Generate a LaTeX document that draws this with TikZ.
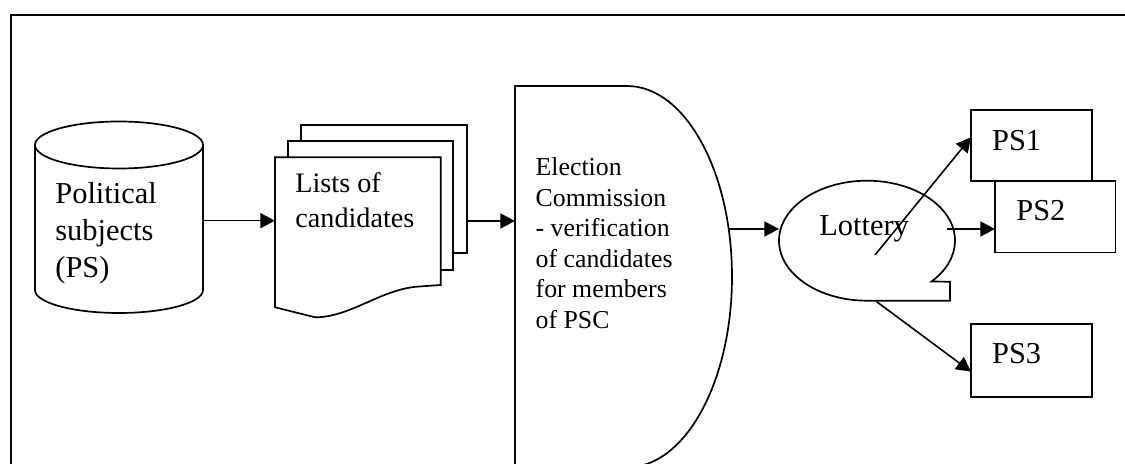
\documentclass[tikz,border=0pt]{standalone}
\usepackage{fontspec}
\setmainfont{Liberation Serif}
\usetikzlibrary{arrows.meta}
\tikzset{
  arr/.style={-{Triangle[length=7.3pt,width=7.5pt]}, line width=0.8pt},
  shp/.style={draw, line width=0.85pt, fill=white},
  txt/.style={inner sep=0pt, align=left},
}

\begin{document}
\begin{tikzpicture}[x=0.5pt,y=0.5pt]
  %%%%% START %%%%%
  \useasboundingbox (0,0) rectangle (1125,-464);
  \clip (0,0) rectangle (1125,-464);
  \draw[line width=1pt] (1200,-15) -- (10.5,-15) -- (10.5,-520);

  % political subjects
  \draw[shp] (35,-145) -- (35,-290) arc[start angle=180, end angle=360, x radius=42pt, y radius=11.5pt] -- (203,-145);
  \draw[shp] (119,-145) ellipse [x radius=42pt, y radius=11.75pt];
  \node[txt, anchor=north west, font=\fontsize{15.2}{18.3}\selectfont] (subj) at (55,-182.5) {Political\\subjects\\(PS)};

  % lists of candidates
  \draw[shp] (301,-124.7) rectangle (467.3,-253.3);
  \draw[shp] (288.3,-141.3) rectangle (452.7,-270);
  \draw[shp] (275,-157.3) -- (440.7,-157.3) -- (440.7,-285) -- (416.7,-286.7)
    .. controls (380,-290) and (350,-317.3) .. (315,-317.3) -- (275,-307.3) -- cycle;
  \node[txt, anchor=north west, font=\fontsize{14.1}{17.2}\selectfont] (lists) at (295,-172.4) {Lists of\\candidates};

  % election commission
  \draw[shp] (627,-86) -- (515,-86) -- (515,-467.4) -- (627,-467.4)
    arc[start angle=-90, end angle=90, x radius=52.5pt, y radius=95.35pt] -- cycle;
  \node[txt, anchor=north west, font=\fontsize{12.9}{15.25}\selectfont] (ec) at (535.3,-157.4)
    {Election\\Commission\\- verification\\of candidates\\for members\\of PSC};

  % lottery
  \draw[shp] (950,-300.7) -- (867,-300.7)
    arc[start angle=270, end angle=-42.9, x radius=44pt, y radius=30pt] -- (950,-281.7) -- cycle;
  \node[txt, anchor=base west, font=\fontsize{15.2}{18}\selectfont] (lot) at (819,-236) {Lottery};

  % results
  \draw[shp] (971,-110) rectangle (1092,-181);
  \draw[shp] (995,-181) rectangle (1115.5,-252.5);
  \draw[shp] (971,-324) rectangle (1092,-397);
  \node[txt, anchor=base west, font=\fontsize{15.2}{18}\selectfont] (ps1) at (991.7,-150.7) {PS1};
  \node[txt, anchor=base west, font=\fontsize{15.2}{18}\selectfont] (ps2) at (1016,-220.7) {PS2};
  \node[txt, anchor=base west, font=\fontsize{15.2}{18}\selectfont] (ps3) at (991.7,-364) {PS3};

  % connectors
  \coordinate (cylE) at (203,-220.7);
  \coordinate (listW) at (275,-220.7);
  \coordinate (listE) at (467.3,-221);
  \coordinate (ecW) at (515,-221);
  \coordinate (ecE) at (729,-229);
  \coordinate (lotW) at (779,-229);
  \coordinate (lotE) at (946.7,-229);
  \coordinate (ps2W) at (995,-229);
  \coordinate (lotC) at (875,-255);
  \coordinate (ps1W) at (971,-137.3);
  \coordinate (lotS) at (876.7,-301.7);
  \coordinate (ps3W) at (971,-371.7);

  \draw[arr] (cylE) -- (listW);
  \draw[arr] (listE) -- (ecW);
  \draw[arr] (ecE) -- (lotW);
  \draw[arr] (lotE) -- (ps2W);
  \draw[arr] (lotC) -- (ps1W);
  \draw[arr] (lotS) -- (ps3W);
  %%%%% END %%%%%
\end{tikzpicture}
\end{document}
